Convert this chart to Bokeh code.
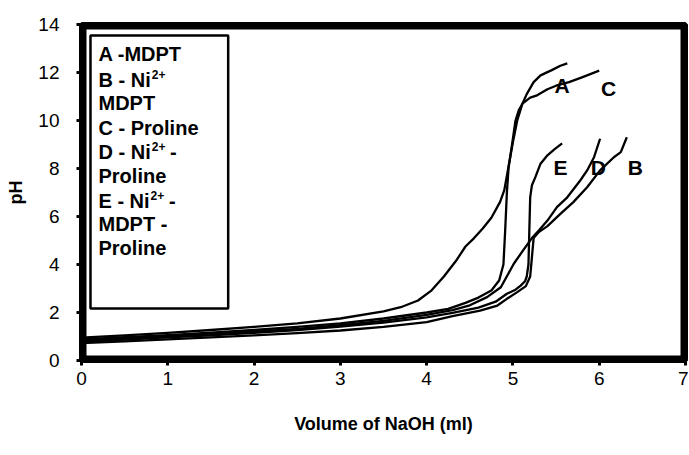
from bokeh.plotting import figure
from bokeh.models import Range1d, BoxAnnotation, FixedTicker
from bokeh.core.properties import value
from bokeh.embed import file_html
from bokeh.resources import INLINE

# ---- data ----
a_x = [0, 0.5, 1, 1.5, 2, 2.5, 3, 3.5, 3.7, 3.9, 4.05, 4.2, 4.35, 4.45, 4.55, 4.65, 4.75, 4.85, 4.9, 4.95, 5.0, 5.05, 5.11, 5.16, 5.24, 5.32, 5.45, 5.55, 5.63]
a_y = [0.95, 1.05, 1.15, 1.27, 1.4, 1.55, 1.75, 2.05, 2.22, 2.5, 2.9, 3.5, 4.2, 4.75, 5.1, 5.5, 5.95, 6.6, 7.1, 8.1, 9.1, 10.0, 10.7, 11.1, 11.6, 11.88, 12.1, 12.28, 12.38]

c_x = [0, 0.5, 1, 1.5, 2, 2.5, 3, 3.5, 4.0, 4.25, 4.45, 4.6, 4.75, 4.84, 4.89, 4.91, 4.93, 4.95, 4.99, 5.03, 5.07, 5.11, 5.2, 5.28, 5.4, 5.5, 5.65, 5.8, 6.0]
c_y = [0.88, 0.97, 1.06, 1.16, 1.27, 1.4, 1.55, 1.75, 2.0, 2.15, 2.4, 2.62, 2.92, 3.33, 4.0, 5.4, 7.0, 8.05, 9.0, 10.0, 10.45, 10.7, 10.95, 11.05, 11.3, 11.45, 11.6, 11.8, 12.08]

d_x = [0, 0.5, 1, 1.5, 2, 2.5, 3, 3.5, 4.0, 4.3, 4.5, 4.7, 4.86, 5.01, 5.12, 5.22, 5.3, 5.4, 5.51, 5.63, 5.78, 5.86, 5.94, 6.01]
d_y = [0.82, 0.92, 1.01, 1.1, 1.2, 1.32, 1.47, 1.65, 1.9, 2.1, 2.3, 2.64, 3.05, 4.03, 4.6, 5.1, 5.42, 5.83, 6.39, 6.8, 7.5, 7.92, 8.47, 9.24]

e_x = [0, 0.5, 1, 1.5, 2, 2.5, 3, 3.5, 4, 4.3, 4.6, 4.8, 4.93, 5.03, 5.09, 5.14, 5.16, 5.18, 5.19, 5.2, 5.22, 5.26, 5.32, 5.4, 5.48, 5.57]
e_y = [0.78, 0.87, 0.96, 1.05, 1.15, 1.27, 1.41, 1.58, 1.8, 1.98, 2.2, 2.45, 2.78, 2.95, 3.12, 3.3, 3.5, 4.0, 5.4, 6.8, 7.3, 7.64, 8.2, 8.55, 8.8, 9.05]

b_x = [0, 0.5, 1, 1.5, 2, 2.5, 3, 3.5, 4, 4.3, 4.62, 4.82, 4.93, 5.05, 5.15, 5.2, 5.22, 5.24, 5.3, 5.4, 5.55, 5.7, 5.86, 6.01, 6.17, 6.25, 6.32]
b_y = [0.72, 0.8, 0.88, 0.96, 1.05, 1.14, 1.25, 1.4, 1.6, 1.85, 2.08, 2.29, 2.57, 2.85, 3.1, 3.5, 4.3, 5.1, 5.35, 5.6, 6.11, 6.6, 7.22, 7.92, 8.47, 8.68, 9.3]

curve_names = ["A", "C", "E", "D", "B"]
label_x = [5.57, 6.11, 5.55, 5.99, 6.42]
label_y = [11.46, 11.33, 8.04, 8.04, 8.04]

legend_lines = ["A -MDPT", "B - Ni", "MDPT", "C - Proline", "D - Ni", "Proline", "E - Ni", "MDPT -", "Proline"]
sup_lines = [1, 4, 6]
sup_text = "2+"
after_sup = {4: " -", 6: " -"}

x_ticks = [0, 1, 2, 3, 4, 5, 6, 7]
y_ticks = [0, 2, 4, 6, 8, 10, 12, 14]

FONT = "Liberation Sans"

p = figure(width=688, height=450, output_backend="svg", toolbar_location=None,
           x_range=Range1d(0, 7), y_range=Range1d(0, 14),
           min_border_left=81, min_border_right=3, min_border_top=24, min_border_bottom=90)
p.background_fill_color = "white"
p.border_fill_color = "white"
p.xgrid.visible = False
p.ygrid.visible = False
p.outline_line_color = "black"
p.outline_line_width = 5

for ax in (p.xaxis[0], p.yaxis[0]):
    ax.axis_line_width = 5
    ax.axis_line_color = "black"
    ax.major_tick_in = 0
    ax.major_tick_out = 5
    ax.major_tick_line_width = 3
    ax.minor_tick_line_color = None
    ax.major_label_text_font = FONT
    ax.major_label_text_font_size = "19px"
    ax.major_label_text_color = "black"
    ax.axis_label_text_font = FONT
    ax.axis_label_text_font_style = "bold"
    ax.axis_label_text_font_size = "18px"
    ax.axis_label_text_color = "black"

p.xaxis.ticker = FixedTicker(ticks=x_ticks)
p.yaxis.ticker = FixedTicker(ticks=y_ticks)
p.xaxis.axis_label = "Volume of NaOH (ml)"
p.yaxis.axis_label = "pH"
p.xaxis.major_label_standoff = 6
p.xaxis.axis_label_standoff = 26
p.yaxis.major_label_standoff = 17
p.yaxis.axis_label_standoff = 9

# thick plot-area frame
p.add_layout(BoxAnnotation(fill_color=None, fill_alpha=0, line_color="black",
                           line_alpha=1.0, line_width=10))

for xs, ys in [(a_x, a_y), (c_x, c_y), (d_x, d_y), (e_x, e_y), (b_x, b_y)]:
    p.line(xs, ys, line_color="black", line_width=2.3, line_join="round")

p.text(x=label_x, y=label_y, text=curve_names, text_font=value(FONT),
       text_font_style="bold", text_font_size="21px", text_align="center",
       text_baseline="middle", text_color="black")

# text box (legend drawn as a framed text block)
p.add_layout(BoxAnnotation(left=0.104, right=1.70, top=13.54, bottom=2.17,
                           fill_color=None, fill_alpha=0,
                           line_color="black", line_alpha=1.0, line_width=2.5))

LEG_FS = 20
px_per_x = 604 / 7.0
px_per_y = 336 / 14.0
leg_x0 = 0.197
leg_centers_px = [53, 79, 102, 127, 151, 175, 200, 223, 247]
ys_leg = [14 - (c - 24) / px_per_y for c in leg_centers_px]
p.text(x=[leg_x0] * len(legend_lines), y=ys_leg, text=legend_lines,
       text_font=value(FONT), text_font_style="bold", text_font_size=f"{LEG_FS}px",
       text_align="left", text_baseline="middle", text_color="black")

# superscripts "2+" after "Ni"
W = {"A": .722, "B": .722, "C": .722, "D": .722, "E": .667, " ": .278, "-": .333, "N": .722, "i": .278}
def width_em(s):
    return sum(W.get(ch, .6) for ch in s)
SUP_FS = 12
sx, sy, ax_x, ax_t, ay = [], [], [], [], []
for i in sup_lines:
    w_px = width_em(legend_lines[i]) * LEG_FS
    xs = leg_x0 + (w_px + 1) / px_per_x
    sx.append(xs)
    sy.append(ys_leg[i] + 5 / px_per_y)
    if i in after_sup:
        ax_x.append(xs + (0.556 * 2 * SUP_FS + 0.584 * SUP_FS - 2) / px_per_x)
        ax_t.append(after_sup[i])
        ay.append(ys_leg[i])
p.text(x=sx, y=sy, text=[sup_text] * len(sx), text_font=value(FONT),
       text_font_style="bold", text_font_size=f"{SUP_FS}px", text_align="left",
       text_baseline="middle", text_color="black")
p.text(x=ax_x, y=ay, text=ax_t, text_font=value(FONT),
       text_font_style="bold", text_font_size=f"{LEG_FS}px", text_align="left",
       text_baseline="middle", text_color="black")

open("out.html", "w").write(file_html(p, INLINE))
